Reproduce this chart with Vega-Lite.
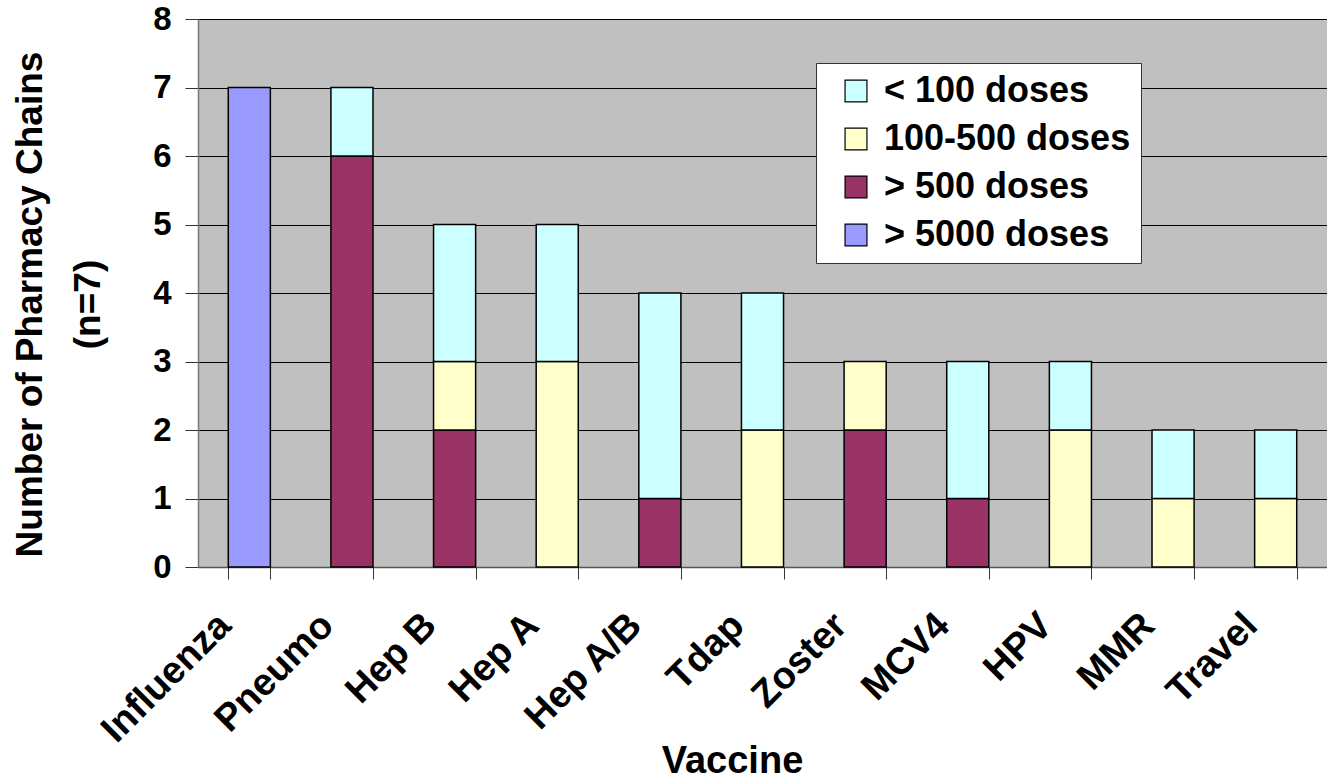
{
  "$schema": "https://vega.github.io/schema/vega-lite/v6.json",
  "autosize": {"type": "none"},
  "padding": {"left": 198, "top": 19, "right": 0, "bottom": 212},
  "width": 1129,
  "height": 548,
  "background": "white",
  "config": {
    "font": "Liberation Sans",
    "view": {"fill": "#C0C0C0", "stroke": null},
    "axis": {"labelFont": "Liberation Sans", "titleFont": "Liberation Sans", "labelFontWeight": "bold", "titleFontWeight": "bold", "labelColor": "black", "titleColor": "black"}
  },
  "data": {"values": [
    {"vaccine": "Influenza", "dose": "> 5000 doses", "tier": 1, "count": 7},
    {"vaccine": "Pneumo", "dose": "> 500 doses", "tier": 2, "count": 6},
    {"vaccine": "Pneumo", "dose": "< 100 doses", "tier": 4, "count": 1},
    {"vaccine": "Hep B", "dose": "> 500 doses", "tier": 2, "count": 2},
    {"vaccine": "Hep B", "dose": "100-500 doses", "tier": 3, "count": 1},
    {"vaccine": "Hep B", "dose": "< 100 doses", "tier": 4, "count": 2},
    {"vaccine": "Hep A", "dose": "100-500 doses", "tier": 3, "count": 3},
    {"vaccine": "Hep A", "dose": "< 100 doses", "tier": 4, "count": 2},
    {"vaccine": "Hep A/B", "dose": "> 500 doses", "tier": 2, "count": 1},
    {"vaccine": "Hep A/B", "dose": "< 100 doses", "tier": 4, "count": 3},
    {"vaccine": "Tdap", "dose": "100-500 doses", "tier": 3, "count": 2},
    {"vaccine": "Tdap", "dose": "< 100 doses", "tier": 4, "count": 2},
    {"vaccine": "Zoster", "dose": "> 500 doses", "tier": 2, "count": 2},
    {"vaccine": "Zoster", "dose": "100-500 doses", "tier": 3, "count": 1},
    {"vaccine": "MCV4", "dose": "> 500 doses", "tier": 2, "count": 1},
    {"vaccine": "MCV4", "dose": "< 100 doses", "tier": 4, "count": 2},
    {"vaccine": "HPV", "dose": "100-500 doses", "tier": 3, "count": 2},
    {"vaccine": "HPV", "dose": "< 100 doses", "tier": 4, "count": 1},
    {"vaccine": "MMR", "dose": "100-500 doses", "tier": 3, "count": 1},
    {"vaccine": "MMR", "dose": "< 100 doses", "tier": 4, "count": 1},
    {"vaccine": "Travel", "dose": "100-500 doses", "tier": 3, "count": 1},
    {"vaccine": "Travel", "dose": "< 100 doses", "tier": 4, "count": 1}
  ]},
  "mark": {"type": "bar", "stroke": "black", "strokeWidth": 1.5},
  "encoding": {
    "x": {
      "field": "vaccine", "type": "nominal",
      "sort": ["Influenza", "Pneumo", "Hep B", "Hep A", "Hep A/B", "Tdap", "Zoster", "MCV4", "HPV", "MMR", "Travel"],
      "scale": {"paddingInner": 0.59, "paddingOuter": 0.295},
      "axis": {
        "title": "Vaccine", "titleFontSize": 38, "titleX": 534, "titleY": 205, "titleBaseline": "alphabetic", "titleAnchor": "middle", "titleAlign": "center",
        "tickBand": "extent", "labelOffset": -38, "labelAngle": -45, "labelAlign": "right", "labelBaseline": "top",
        "labelFontSize": 38, "labelPadding": 27, "tickSize": 12, "tickColor": "#333333", "domainColor": "#555555", "domainWidth": 1.5, "grid": false
      }
    },
    "y": {
      "field": "count", "type": "quantitative", "stack": "zero",
      "scale": {"domain": [0, 8], "nice": false},
      "axis": {
        "title": ["Number of Pharmacy Chains", "(n=7)"], "titleFontSize": 37, "titleLineHeight": 58,
        "titleAngle": -90, "titleX": -168, "titleY": 285, "titleAlign": "center", "titleBaseline": "middle",
        "values": [0, 1, 2, 3, 4, 5, 6, 7, 8], "labelFontSize": 33, "labelPadding": 14, "tickSize": 13, "tickColor": "#333333",
        "domainColor": "#777777", "domainWidth": 1.5, "grid": true, "gridColor": "#000000", "gridWidth": 1
      }
    },
    "color": {
      "field": "dose", "type": "nominal",
      "scale": {"domain": ["< 100 doses", "100-500 doses", "> 500 doses", "> 5000 doses"], "range": ["#CCFFFF", "#FFFFCC", "#993366", "#9999FF"]},
      "legend": {
        "title": null, "orient": "none", "legendX": 618, "legendY": 44,
        "fillColor": "white", "strokeColor": "#333333", "padding": 10,
        "symbolType": "square", "symbolSize": 480, "symbolStrokeColor": "black", "symbolStrokeWidth": 1.2, "symbolOpacity": 1, "symbolOffset": 12,
        "labelFont": "Liberation Sans", "labelFontWeight": "bold", "labelFontSize": 36, "labelColor": "black", "labelLimit": 400, "labelOffset": 10,
        "rowPadding": 12
      }
    },
    "order": {"field": "tier", "type": "quantitative", "sort": "ascending"}
  }
}
